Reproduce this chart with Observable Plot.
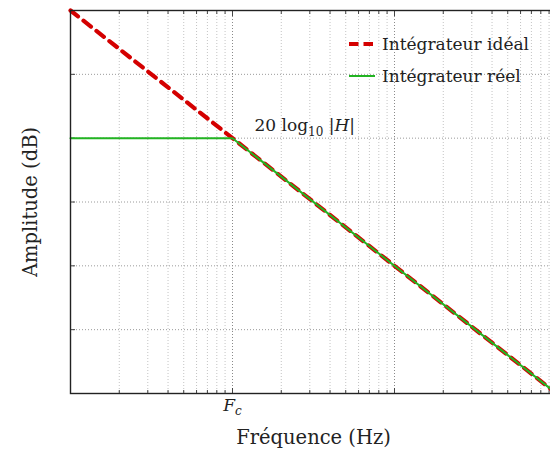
<!DOCTYPE html>
<html>
<head>
<meta charset="utf-8">
<script src="https://cdn.jsdelivr.net/npm/d3@7"></script>
<script src="https://cdn.jsdelivr.net/npm/@observablehq/plot@0.6"></script>
<style>
  html, body { margin: 0; padding: 0; background: #fff; overflow: hidden; }
  #wrap { position: relative; width: 550px; height: 453px; overflow: hidden; }
  #legend { position: absolute; left: 348px; top: 28px; font-family: "DejaVu Serif", serif; font-size: 17px; color: #222; line-height: 32px; }
  #legend .row { display: flex; align-items: center; white-space: nowrap; }
  #legend svg { margin-right: 6px; }
</style>
</head>
<body>
<div id="wrap"><div id="chart"></div>
<div id="legend"></div></div>
<script>
// ---- data ----
const idealFreq = [1, 10, 1000];
const idealDb = [20, 0, -40];
const realFreq = [1, 10, 1000];
const realDb = [0, 0, -40];
const Fc = 10;
const yTicks = [-40, -30, -20, -10, 0, 10, 20];
const decades = [1, 10, 100, 1000];
const mantissas = [2, 3, 4, 5, 6, 7, 8, 9];
const seriesNames = ["Intégrateur idéal", "Intégrateur réel"];
const seriesColors = ["#d40000", "#22b422"];

const minorX = decades.slice(0, 3).flatMap(d => mantissas.map(m => d * m));
const ideal = idealFreq.map((f, i) => ({f, db: idealDb[i]}));
const real = realFreq.map((f, i) => ({f, db: realDb[i]}));

const font = "'DejaVu Serif', serif";

const chart = Plot.plot({
  width: 556,
  height: 453,
  marginLeft: 70,
  marginRight: 0,
  marginTop: 10,
  marginBottom: 60,
  style: {fontFamily: font, background: "white", maxWidth: "none", overflow: "hidden"},
  x: {type: "log", domain: [1, 1000]},
  y: {domain: [-40, 20]},
  marks: [
    Plot.ruleX(minorX, {stroke: "#c4c4c4", strokeDasharray: "1,2", strokeWidth: 1}),
    Plot.ruleX(decades, {stroke: "#8a8a8a", strokeDasharray: "1,2", strokeWidth: 1}),
    Plot.ruleY(yTicks, {stroke: "#9a9a9a", strokeDasharray: "1,2", strokeWidth: 1}),
    Plot.axisX(minorX, {anchor: "bottom", tickSize: -3, tickFormat: () => "", label: null, stroke: "#444"}),
    Plot.axisX(decades, {anchor: "bottom", tickSize: -5, tickFormat: () => "", label: null, stroke: "#444"}),
    Plot.axisX(minorX, {anchor: "top", tickSize: -3, tickFormat: () => "", label: null, stroke: "#444"}),
    Plot.axisX(decades, {anchor: "top", tickSize: -5, tickFormat: () => "", label: null, stroke: "#444"}),
    Plot.axisY(yTicks, {anchor: "left", tickSize: -5, tickFormat: () => "", label: null, stroke: "#444"}),
    Plot.line(ideal, {x: "f", y: "db", stroke: seriesColors[0], strokeWidth: 4.2, strokeDasharray: "9.5,7"}),
    Plot.line(real, {x: "f", y: "db", stroke: seriesColors[1], strokeWidth: 2}),
    Plot.frame({stroke: "#222", strokeWidth: 1.4}),
    Plot.text([Fc], {x: d => d, frameAnchor: "bottom", dy: 17, text: () => "FC", fontSize: 17, fill: "#222", className: "fc-label"}),
    Plot.text([{f: Fc, db: 0}], {x: "f", y: "db", dx: 22, dy: -13, text: () => "ANNOT", textAnchor: "start", fontSize: 17, fill: "#222", className: "annot"}),
    Plot.text(["Fréquence (Hz)"], {frameAnchor: "bottom", dy: 50, text: d => d, fontSize: 19.5, fill: "#222"}),
    Plot.text(["Amplitude (dB)"], {frameAnchor: "left", dx: -40, rotate: -90, textAnchor: "middle", text: d => d, fontSize: 19.5, fill: "#222"})
  ]
});
document.getElementById("chart").appendChild(chart);

// rich text for labels with subscripts / italics
const svg = d3.select(chart);
svg.selectAll("text").style("font-family", font);
svg.selectAll(".fc-label text").each(function() {
  const t = d3.select(this); t.text("");
  t.append("tspan").attr("font-style", "italic").text("F");
  t.append("tspan").attr("font-style", "italic").attr("font-size", 12).attr("dy", 4).text("c");
});
svg.selectAll(".annot text").each(function() {
  const t = d3.select(this); t.text("");
  t.append("tspan").text("20 log");
  t.append("tspan").attr("font-size", 12).attr("dy", 5).text("10");
  t.append("tspan").attr("dy", -5).text(" |");
  t.append("tspan").attr("font-style", "italic").text("H");
  t.append("tspan").text("|");
});

// legend
const legend = d3.select("#legend");
seriesNames.forEach((name, i) => {
  const row = legend.append("div").attr("class", "row");
  const s = row.append("svg").attr("width", 28).attr("height", 10);
  s.append("line").attr("x1", 1).attr("x2", 27).attr("y1", 5).attr("y2", 5)
    .attr("stroke", seriesColors[i]).attr("stroke-width", i === 0 ? 4.2 : 2)
    .attr("stroke-dasharray", i === 0 ? "9.5,5" : null);
  row.append("span").text(name);
});
</script>
</body>
</html>
